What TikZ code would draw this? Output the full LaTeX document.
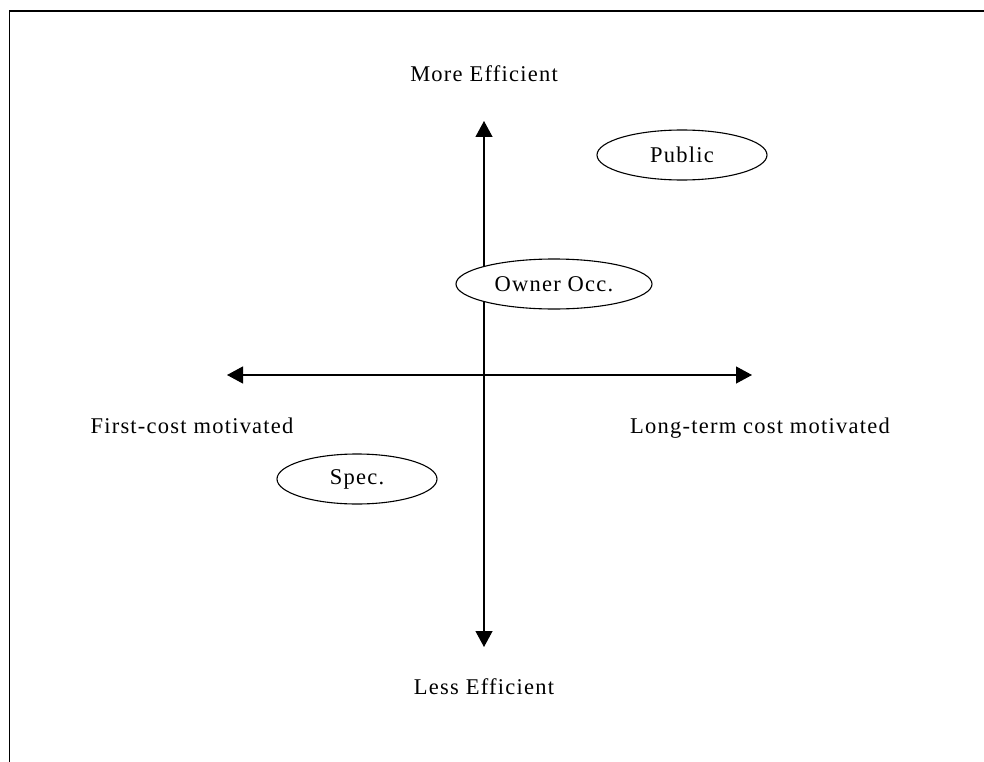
\documentclass[tikz,border=0pt]{standalone}
\usepackage{fontspec}
\setmainfont{Liberation Serif}[LetterSpace=5.5]
\usetikzlibrary{arrows.meta,shapes.geometric}

\tikzset{
  frameline/.style={line width=1.6pt, line cap=rect},
  axis/.style={line width=1.2pt,
    {Triangle[length=16pt,width=17pt]}-{Triangle[length=16pt,width=17pt]}},
  lbl/.style={anchor=base, inner sep=0pt, font=\fontsize{22.5}{27}\selectfont},
  bubble/.style={ellipse, draw, fill=white, line width=1.1pt, inner sep=0pt,
    minimum height=50pt, font=\fontsize{22.5}{27}\selectfont}
}

\begin{document}
\begin{tikzpicture}[x=1pt,y=-1pt]
  \useasboundingbox (0,0) rectangle (984,762);

  % open frame: top and left edges only
  \coordinate (frameTR) at (984,11);
  \coordinate (frameTL) at (9.5,11);
  \coordinate (frameBL) at (9.5,762);
  \draw[frameline] (frameTR) -- (frameTL) -- (frameBL);

  % axes
  \coordinate (up) at (484,121);
  \coordinate (down) at (484,647);
  \coordinate (left) at (227,375);
  \coordinate (right) at (752,375);
  \draw[axis] (down) -- (up);
  \draw[axis] (left) -- (right);

  % axis labels
  \node[lbl] (more) at (484,82) {More Efficient};
  \node[lbl] (less) at (484,694) {Less Efficient};
  \node[lbl] (first) at (192,433) {First-cost motivated};
  \node[lbl] (long) at (760,433) {Long-term cost motivated};

  % groups
  \node[bubble, minimum width=170pt] (public) at (682,155) {Public};
  \node[bubble, minimum width=196pt] (owner) at (554,284) {Owner Occ.};
  \node[bubble, minimum width=160pt] (spec) at (357,479) {Spec.};
\end{tikzpicture}
\end{document}
